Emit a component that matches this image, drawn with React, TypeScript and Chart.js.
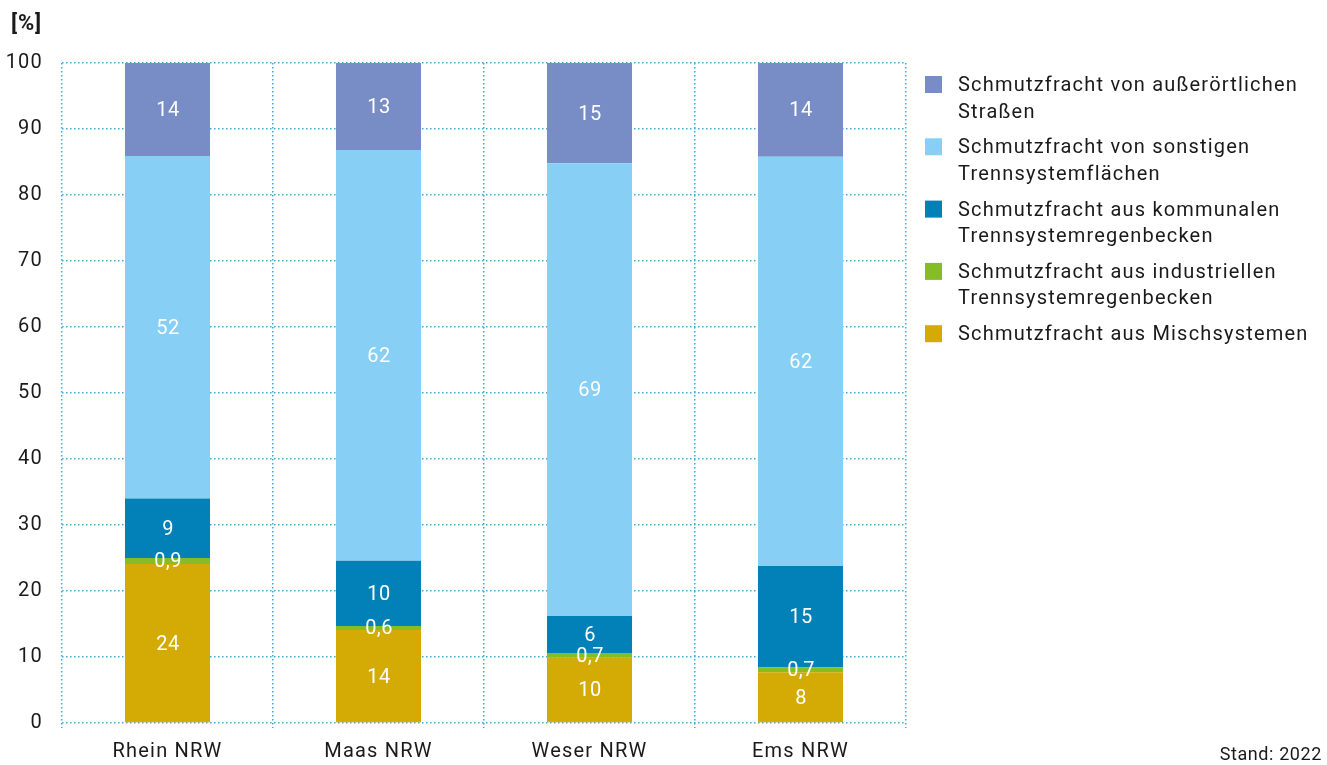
import React, { useEffect, useRef } from 'react';
import { Chart, registerables } from 'chart.js';

Chart.register(...registerables);

const categories = ['Rhein NRW', 'Maas NRW', 'Weser NRW', 'Ems NRW'];
const mischsystemeValues = [24.1, 14.1, 9.9, 7.7];
const industrielleValues = [0.9, 0.6, 0.7, 0.7];
const kommunaleValues = [9.0, 9.9, 5.6, 15.4];
const sonstigeValues = [51.9, 62.2, 68.6, 62.0];
const strassenValues = [14.1, 13.2, 15.2, 14.2];
const yTickValues = [0, 10, 20, 30, 40, 50, 60, 70, 80, 90, 100];

const seriesLabels = [
  ['Schmutzfracht aus Mischsystemen'],
  ['Schmutzfracht aus industriellen', 'Trennsystemregenbecken'],
  ['Schmutzfracht aus kommunalen', 'Trennsystemregenbecken'],
  ['Schmutzfracht von sonstigen', 'Trennsystemflächen'],
  ['Schmutzfracht von außerörtlichen', 'Straßen'],
];
const seriesValues = [mischsystemeValues, industrielleValues, kommunaleValues, sonstigeValues, strassenValues];
const seriesColors = ['#d4ab04', '#86bc25', '#0280b8', '#87cff4', '#788dc6'];

const FONT = 'Roboto, "Noto Sans", sans-serif';
const GRID = '#3aa9de';
const SPACING = '1.2px';

function fmt(v: number): string {
  if (v < 1) return v.toFixed(1).replace('.', ',');
  return String(Math.round(v));
}

const spacingPlugin = {
  id: 'spacing',
  beforeDraw(chart: any) {
    (chart.ctx as any).letterSpacing = SPACING;
  },
};

const segmentLabels = {
  id: 'segmentLabels',
  afterDatasetsDraw(chart: any) {
    const ctx = chart.ctx;
    ctx.save();
    (ctx as any).letterSpacing = '0.4px';
    ctx.fillStyle = '#ffffff';
    ctx.font = `20px ${FONT}`;
    ctx.textAlign = 'center';
    ctx.textBaseline = 'middle';
    chart.data.datasets.forEach((ds: any, di: number) => {
      const meta = chart.getDatasetMeta(di);
      meta.data.forEach((el: any, i: number) => {
        const p = el.getProps(['x', 'y', 'base'], true);
        ctx.fillText(fmt(ds.data[i]), p.x + 0.5, (p.y + p.base) / 2 + 1.5);
      });
    });
    ctx.restore();
  },
};

const extras = {
  id: 'extras',
  afterDraw(chart: any) {
    const ctx = chart.ctx;
    ctx.save();
    (ctx as any).letterSpacing = '0.8px';
    ctx.fillStyle = '#1a1a1a';
    ctx.font = `bold 22px ${FONT}`;
    ctx.textAlign = 'left';
    ctx.textBaseline = 'alphabetic';
    ctx.fillText('[%]', 11, 30);
    (ctx as any).letterSpacing = '0.6px';
    ctx.font = `18px ${FONT}`;
    ctx.textAlign = 'right';
    ctx.fillText('Stand: 2022', 1322, 760);
    (ctx as any).letterSpacing = SPACING;
    const n = chart.data.datasets.length;
    ctx.font = `20px ${FONT}`;
    ctx.textAlign = 'left';
    ctx.textBaseline = 'middle';
    for (let k = 0; k < n; k++) {
      const di = n - 1 - k;
      const ds = chart.data.datasets[di];
      const top = 76 + k * 62.3;
      ctx.fillStyle = ds.backgroundColor;
      ctx.fillRect(925, top, 17, 17);
      ctx.fillStyle = '#1a1a1a';
      const lines: string[] = seriesLabels[di];
      lines.forEach((line, li) => {
        ctx.fillText(line, 958, top + 10 + li * 26.5);
      });
    }
    ctx.restore();
  },
};

export default function App() {
  const canvasRef = useRef<HTMLCanvasElement | null>(null);

  useEffect(() => {
    if (!canvasRef.current) return;
    const chart = new Chart(canvasRef.current, {
      type: 'bar',
      data: {
        labels: categories,
        datasets: seriesValues.map((vals, i) => ({
          label: seriesLabels[i].join(' '),
          data: vals,
          backgroundColor: seriesColors[i],
          borderWidth: 0,
          barPercentage: 0.403,
          categoryPercentage: 1,
        })),
      },
      options: {
        animation: false,
        responsive: true,
        maintainAspectRatio: false,
        layout: { padding: { top: 63, right: 421, bottom: 0, left: 0 } },
        plugins: {
          legend: { display: false },
          tooltip: { enabled: false },
          title: { display: false },
        },
        scales: {
          x: {
            stacked: true,
            offset: true,
            grid: {
              offset: true,
              color: GRID,
              lineWidth: 1.5,
              drawTicks: true,
              tickLength: 5,
              tickColor: GRID,
              tickBorderDash: [1.5, 2.5],
            },
            border: { display: false, dash: [1.5, 2.5] },
            ticks: {
              color: '#1a1a1a',
              font: { family: FONT, size: 20 },
              padding: 12,
              maxRotation: 0,
            },
            afterFit(scale: any) {
              scale.height = 42;
            },
          },
          y: {
            stacked: true,
            min: 0,
            max: 100,
            grid: {
              color: GRID,
              lineWidth: 1.5,
              drawTicks: false,
            },
            border: { display: false, dash: [1.5, 2.5] },
            ticks: {
              color: '#1a1a1a',
              font: { family: FONT, size: 20 },
              padding: 19,
              stepSize: 10,
            },
            afterBuildTicks(scale: any) {
              scale.ticks = yTickValues.map((v) => ({ value: v }));
            },
            afterFit(scale: any) {
              scale.width = 62;
            },
          },
        },
      },
      plugins: [spacingPlugin, segmentLabels, extras],
    } as any);
    return () => chart.destroy();
  }, []);

  return (
    <div style={{ position: 'fixed', left: 0, top: 0, width: 1327, height: 765, background: '#fff' }}>
      <canvas ref={canvasRef} />
    </div>
  );
}
